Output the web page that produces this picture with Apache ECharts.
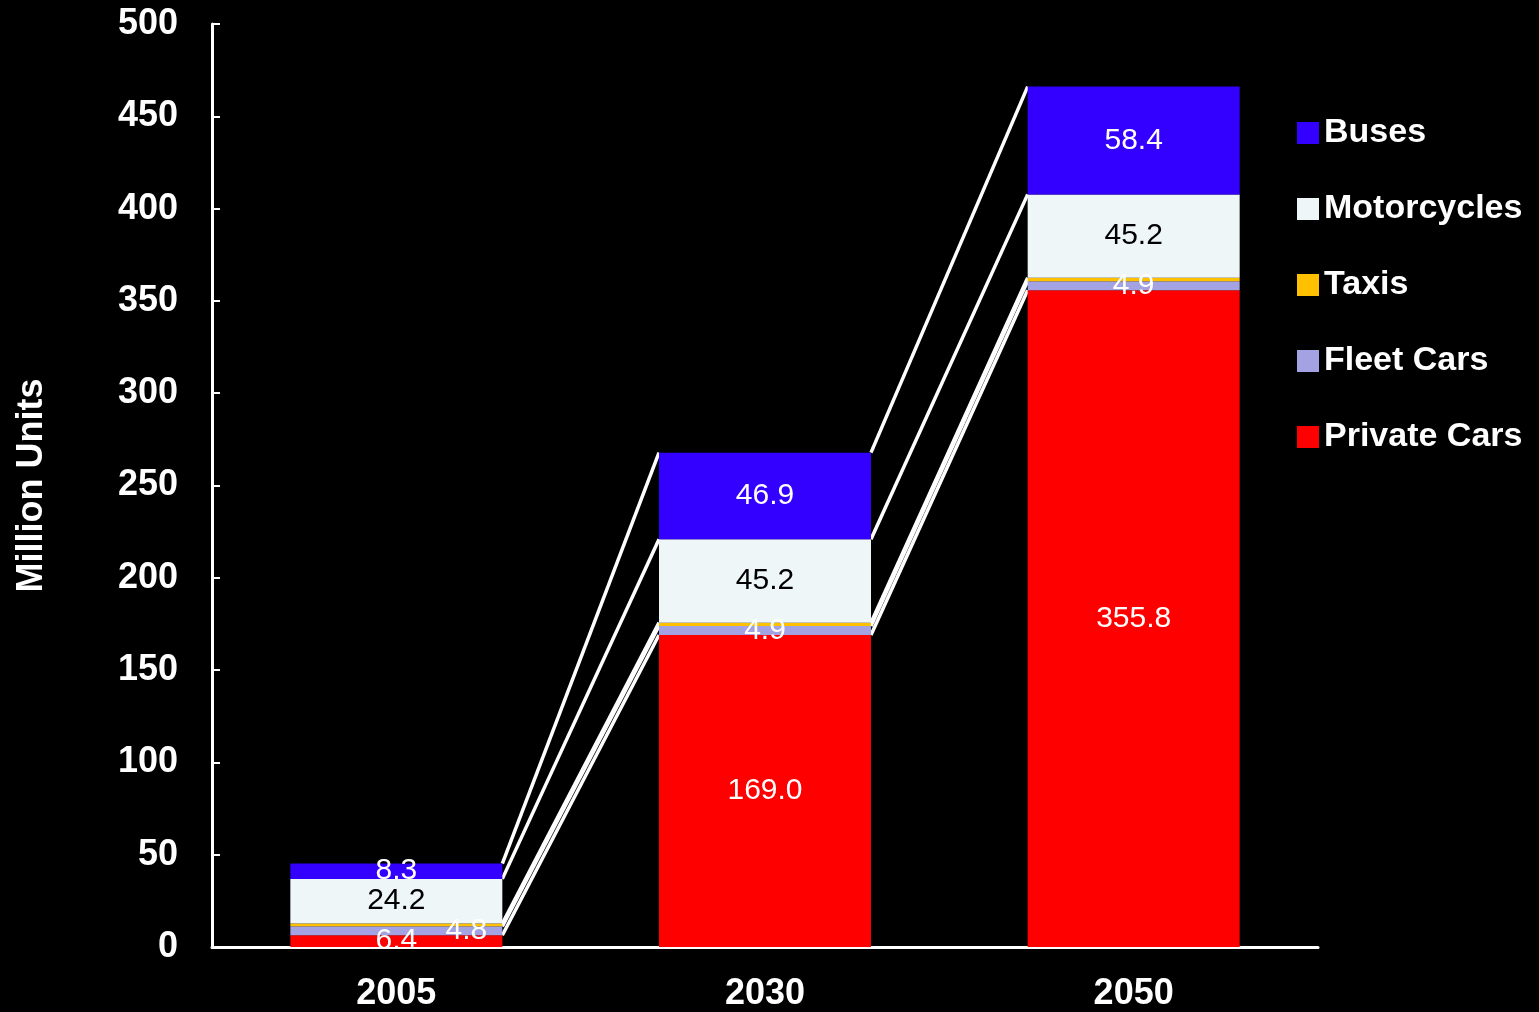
<!DOCTYPE html>
<html>
<head>
<meta charset="utf-8">
<script src="https://cdn.jsdelivr.net/npm/echarts@6/dist/echarts.min.js"></script>
<style>
  html, body { margin: 0; padding: 0; background: #000; }
  #chart { width: 1539px; height: 1012px; }
</style>
</head>
<body>
<div id="chart"></div>
<script>
// Vehicle stock by year, million units
const years = ['2005', '2030', '2050'];
const privateCars = [6.4, 169.0, 355.8];
const fleetCars = [4.8, 4.9, 4.9];
const taxis = [1.5, 1.8, 1.8];
const motorcycles = [24.2, 45.2, 45.2];
const buses = [8.3, 46.9, 58.4];
const yTicks = { min: 0, max: 500, interval: 50 };

const BAR_RATIO = 0.575;
const HEAVY_FONT = 'Liberation Sans, Arial, sans-serif';
const stackOrder = [
  { name: 'Private Cars', values: privateCars, color: '#ff0000', labelColor: '#fff', label: true },
  { name: 'Fleet Cars', values: fleetCars, color: '#a3a3e3', labelColor: '#fff', label: true },
  { name: 'Taxis', values: taxis, color: '#ffc000', labelColor: '#fff', label: false },
  { name: 'Motorcycles', values: motorcycles, color: '#eef6f8', labelColor: '#000', label: true },
  { name: 'Buses', values: buses, color: '#3300ff', labelColor: '#fff', label: true }
];

// Cumulative top of each segment, used for the connector lines between bars
const tops = [];
let running = years.map(() => 0);
stackOrder.forEach(s => {
  running = running.map((r, i) => r + s.values[i]);
  tops.push(running.slice());
});
const connectorData = [];
for (let g = 0; g < years.length - 1; g++) {
  tops.forEach(t => connectorData.push([g, t[g], t[g + 1]]));
}

const labelFont = { fontFamily: HEAVY_FONT, fontSize: 30 };

const barSeries = stackOrder.map(s => ({
  name: s.name,
  type: 'bar',
  stack: 'total',
  barWidth: (BAR_RATIO * 100) + '%',
  itemStyle: { color: s.color },
  data: s.values.map((v, i) => {
    const item = { value: v };
    if (s.name === 'Fleet Cars' && i === 0) {
      item.label = { offset: [70, 0] };
    }
    return item;
  }),
  label: {
    show: s.label,
    position: 'inside',
    color: s.labelColor,
    ...labelFont,
    formatter: p => p.value.toFixed(1)
  },
  z: 3
}));

const connectors = {
  type: 'custom',
  name: 'connectors',
  data: connectorData,
  encode: { x: 0, y: [1, 2] },
  z: 2,
  silent: true,
  renderItem: function (params, api) {
    const g = api.value(0);
    const p1 = api.coord([g, api.value(1)]);
    const p2 = api.coord([g + 1, api.value(2)]);
    const half = api.size([1, 0])[0] * BAR_RATIO / 2;
    return {
      type: 'line',
      shape: { x1: p1[0] + half, y1: p1[1], x2: p2[0] - half, y2: p2[1] },
      style: { stroke: '#ffffff', lineWidth: 3.5 }
    };
  }
};

const chart = echarts.init(document.getElementById('chart'));
chart.setOption({
  backgroundColor: '#000',
  animation: false,
  grid: { left: 212, right: 221, top: 24, bottom: 63 },
  legend: {
    data: ['Buses', 'Motorcycles', 'Taxis', 'Fleet Cars', 'Private Cars'],
    orient: 'vertical',
    left: 1292,
    top: 111,
    icon: 'rect',
    itemWidth: 22,
    itemHeight: 22,
    itemGap: 42,
    selectedMode: false,
    textStyle: {
      color: '#fff',
      fontFamily: HEAVY_FONT,
      fontWeight: 'bold',
      fontSize: 34,
      lineHeight: 34,
      padding: [0, 0, 0, 0]
    }
  },
  xAxis: {
    type: 'category',
    data: years,
    axisLine: { lineStyle: { color: '#fff', width: 3 } },
    axisTick: { show: false },
    axisLabel: {
      color: '#fff',
      fontFamily: HEAVY_FONT,
      fontWeight: 'bold',
      fontSize: 36,
      margin: 29
    }
  },
  yAxis: {
    type: 'value',
    min: yTicks.min,
    max: yTicks.max,
    interval: yTicks.interval,
    name: 'Million Units',
    nameLocation: 'middle',
    nameGap: 162,
    nameTextStyle: {
      color: '#fff',
      fontFamily: HEAVY_FONT,
      fontWeight: 'bold',
      fontSize: 36
    },
    axisLine: { show: true, lineStyle: { color: '#fff', width: 3 } },
    axisTick: { show: true, inside: true, length: 8, lineStyle: { color: '#fff', width: 2 } },
    splitLine: { show: false },
    axisLabel: {
      color: '#fff',
      fontFamily: HEAVY_FONT,
      fontWeight: 'bold',
      fontSize: 36,
      margin: 34
    }
  },
  series: [...barSeries, connectors]
});
</script>
</body>
</html>
